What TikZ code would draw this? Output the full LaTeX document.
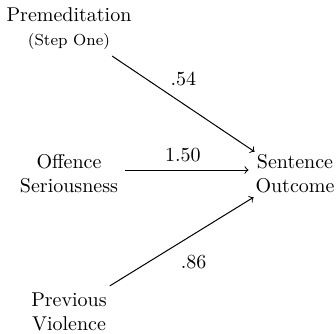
\documentclass[tikz,border=0pt]{standalone}
\usetikzlibrary{calc}
\begin{document}
\begin{tikzpicture}[x=1pt,y=1pt,
  var/.style={align=center, inner sep=3.33pt},
  path/.style={->, line width=0.5pt},
  coef/.style={inner sep=1pt}]
\useasboundingbox (0,0) rectangle (168,166.5);
\node[var] (prem) at (34.5,159) {Premeditation};
\node[var, font=\footnotesize] (step) at (34.5,146) {(Step One)};
\node[var] (off) at (34.5,79.5) {Offence\\Seriousness};
\node[var] (sent) at (147.5,79.5) {Sentence\\Outcome};
\node[var] (prev) at (34.5,10.5) {Previous\\Violence};
\draw[path] ([xshift=-2.5pt]step.south east) -- ([shift={(3pt,-2pt)}]sent.north west)
  node[coef, midway, yshift=12.5pt] (l1) {.54};
\draw[path] ([yshift=2pt]off.east) -- ([yshift=2pt]sent.west)
  node[coef, midway, above=3pt, xshift=-2pt] (l2) {1.50};
\draw[path] ([xshift=-2pt]prev.north east) -- ([shift={(2.5pt,1.5pt)}]sent.south west)
  node[coef, midway, xshift=6pt, yshift=-10pt] (l3) {.86};
\end{tikzpicture}
\end{document}
